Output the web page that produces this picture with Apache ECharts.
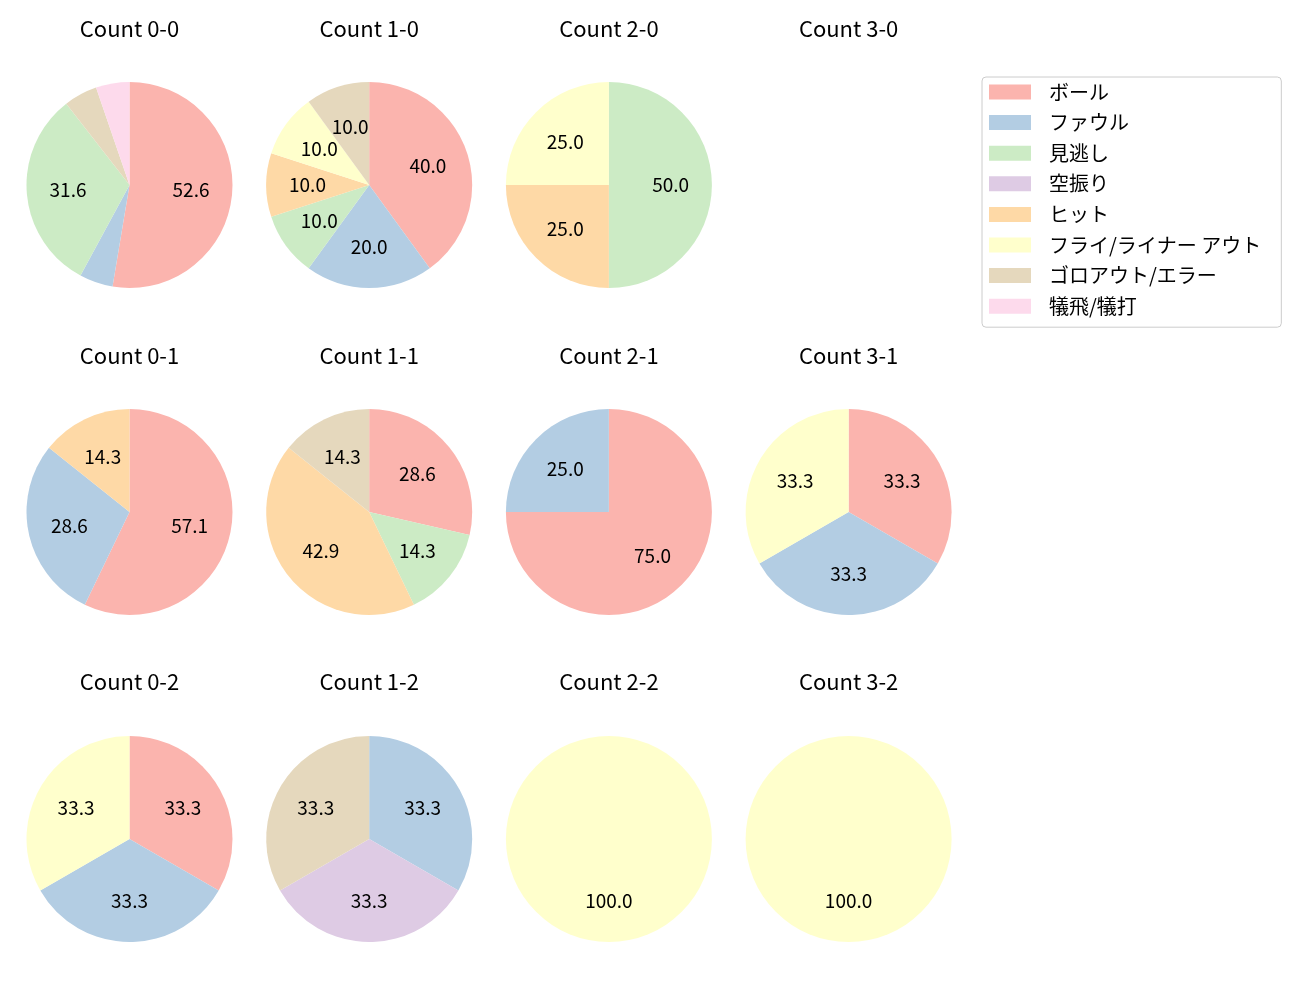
<!DOCTYPE html>
<html>
<head>
<meta charset="utf-8">
<script src="https://cdn.jsdelivr.net/npm/echarts@6/dist/echarts.min.js"></script>
<style>html,body{margin:0;padding:0;background:#fff}#c{width:1300px;height:1000px}</style>
</head>
<body>
<div id="c"></div>
<script>
// Categories (legend order)
const categories = ['ボール','ファウル','見逃し','空振り','ヒット','フライ/ライナー アウト','ゴロアウト/エラー','犠飛/犠打'];
const colors = ['#fbb4ae','#b3cde3','#ccebc5','#decbe4','#fed9a6','#ffffcc','#e5d8bd','#fddaec'];
// Panel titles, row-major (rows: strikes 0..2, cols: balls 0..3)
const panelTitles = ['Count 0-0','Count 1-0','Count 2-0','Count 3-0',
                     'Count 0-1','Count 1-1','Count 2-1','Count 3-1',
                     'Count 0-2','Count 1-2','Count 2-2','Count 3-2'];
// Counts per category for each panel (same order as categories)
const count00 = [10,1,6,0,0,0,1,1];
const count10 = [4,2,1,0,1,1,1,0];
const count20 = [0,0,2,0,1,1,0,0];
const count30 = [0,0,0,0,0,0,0,0];
const count01 = [4,2,0,0,1,0,0,0];
const count11 = [2,0,1,0,3,0,1,0];
const count21 = [3,1,0,0,0,0,0,0];
const count31 = [1,1,0,0,0,1,0,0];
const count02 = [1,1,0,0,0,1,0,0];
const count12 = [0,1,0,1,0,0,1,0];
const count22 = [0,0,0,0,0,1,0,0];
const count32 = [0,0,0,0,0,1,0,0];
const panelCounts = [count00,count10,count20,count30,count01,count11,count21,count31,count02,count12,count22,count32];

const FONT = '"Noto Sans CJK JP", "Noto Sans", sans-serif';
const colX = [129.5, 369.2, 608.9, 848.6];
const rowY = [185, 512, 839];
const titleY = [29, 356, 682];
const R = 103;

const titles = [];
const series = [];
panelCounts.forEach((counts, idx) => {
  const r = Math.floor(idx / 4), c = idx % 4;
  titles.push({
    text: panelTitles[idx], left: colX[c], top: titleY[r] - 13, textAlign: 'center', padding: 0,
    textStyle: {fontFamily: FONT, fontSize: 22, fontWeight: 'normal', color: '#000', lineHeight: 26}
  });
  const total = counts.reduce((a, b) => a + b, 0);
  if (total === 0) return;
  const data = [];
  counts.forEach((v, i) => { if (v > 0) data.push({name: categories[i], value: v, itemStyle: {color: colors[i]}}); });
  series.push({
    type: 'pie', center: [colX[c], rowY[r]], radius: R, startAngle: 90, clockwise: true,
    silent: true, animation: false, avoidLabelOverlap: false,
    itemStyle: {borderWidth: 0}, label: {show: false}, labelLine: {show: false},
    emphasis: {disabled: true}, data: data
  });
  series.push({
    type: 'pie', center: [colX[c], rowY[r]], radius: [R * 0.14, R], startAngle: 90, clockwise: true,
    silent: true, animation: false, avoidLabelOverlap: false, legendHoverLink: false,
    itemStyle: {color: 'rgba(0,0,0,0)', borderWidth: 0},
    label: {show: true, position: 'inside', fontFamily: FONT, fontSize: 19, color: '#000',
      formatter: p => { const pct = p.value / total * 100; return pct >= 8 ? pct.toFixed(1) : ''; }},
    labelLine: {show: false}, emphasis: {disabled: true},
    data: data.map(d => ({name: d.name, value: d.value}))
  });
});

const chart = echarts.init(document.getElementById('c'), null, {renderer: 'canvas'});
chart.setOption({
  animation: false,
  title: titles,
  legend: {
    orient: 'vertical', left: 982, top: 77,
    padding: [5, 20, 11, 7],
    borderColor: '#cccccc', borderWidth: 1, borderRadius: 4,
    icon: 'rect', itemWidth: 42, itemHeight: 15, itemGap: 10.6,
    selectedMode: false,
    textStyle: {fontFamily: FONT, fontSize: 20, color: '#000', lineHeight: 20, padding: [0, 0, 0, 13]},
    data: categories.map((n, i) => ({name: n, itemStyle: {color: colors[i]}}))
  },
  series: series
});
</script>
</body>
</html>
